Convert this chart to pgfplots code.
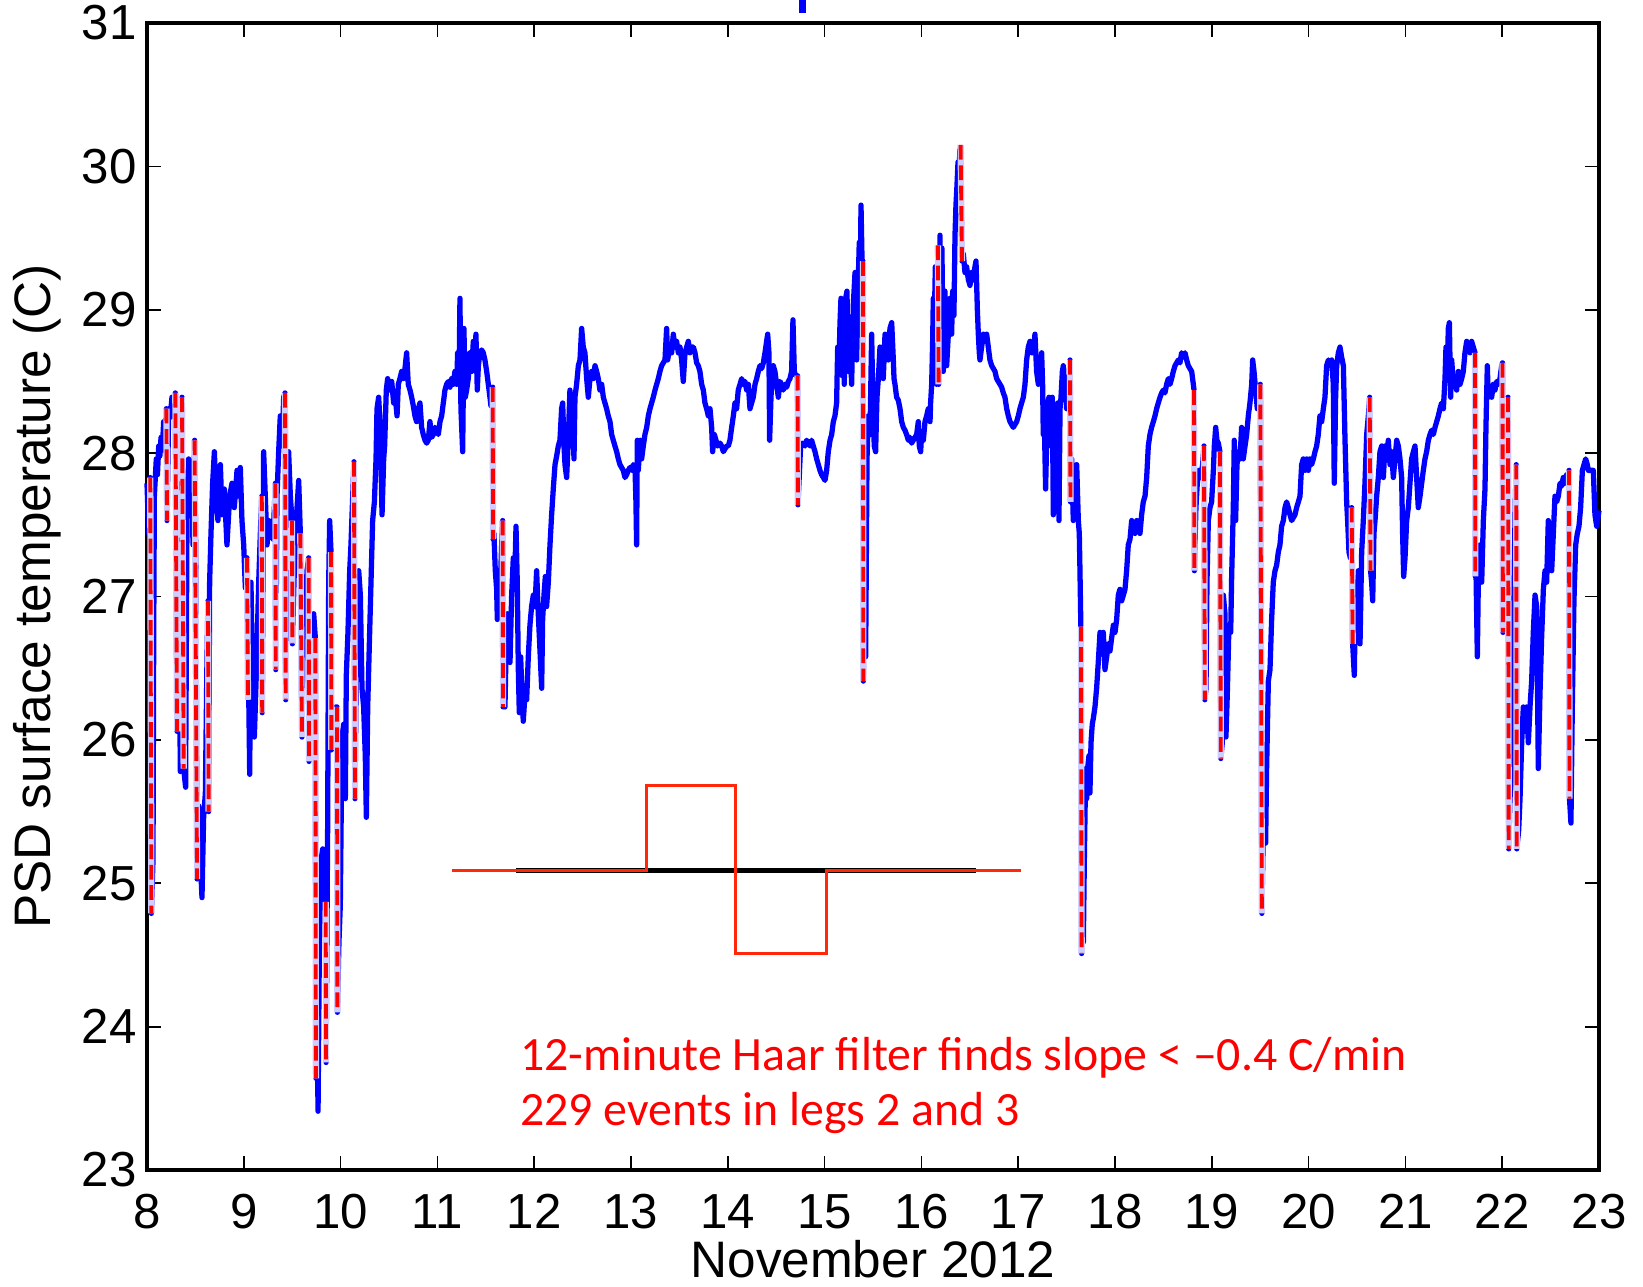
\documentclass[border=0pt]{standalone}
\usepackage{fontspec}
\setmainfont{Liberation Sans}
\newfontfamily\carlito{Carlito}
\usepackage{pgfplots}
\usepackage{pgfplotstable}
\pgfplotsset{compat=1.18}
\definecolor{haarred}{RGB}{255,40,10}
\definecolor{paleblue}{RGB}{205,205,255}
\pgfplotstableread{
x y
8.000 27.79
8.017 27.44
8.034 27.83
8.045 24.79
8.062 25.16
8.069 26.67
8.076 27.70
8.096 27.96
8.108 27.85
8.121 28.05
8.133 27.98
8.145 28.11
8.158 28.02
8.172 28.22
8.186 28.12
8.200 28.31
8.207 27.53
8.224 28.31
8.240 28.25
8.258 28.39
8.275 28.33
8.293 28.42
8.310 26.06
8.327 27.53
8.344 25.78
8.362 28.39
8.379 25.80
8.399 25.67
8.413 27.53
8.430 27.96
8.448 27.70
8.465 27.88
8.475 27.36
8.492 28.09
8.506 27.14
8.517 25.03
8.534 25.54
8.551 25.16
8.568 24.90
8.585 25.46
8.603 25.63
8.620 26.58
8.630 26.97
8.637 25.50
8.647 27.10
8.661 27.44
8.678 27.79
8.696 28.01
8.713 27.70
8.733 27.53
8.758 27.92
8.775 27.57
8.799 27.75
8.826 27.36
8.854 27.70
8.878 27.79
8.902 27.62
8.930 27.88
8.947 27.70
8.964 27.90
8.981 27.53
8.999 27.36
9.016 27.06
9.033 27.27
9.043 26.75
9.061 25.76
9.074 27.10
9.095 26.23
9.109 26.02
9.129 26.45
9.154 27.10
9.171 27.44
9.186 27.70
9.190 26.19
9.205 28.01
9.222 27.70
9.240 27.36
9.257 27.53
9.274 27.44
9.302 27.40
9.326 27.79
9.330 26.49
9.343 27.70
9.360 28.01
9.377 28.26
9.395 28.05
9.412 28.39
9.426 28.42
9.433 26.28
9.446 27.53
9.463 28.01
9.481 27.70
9.498 27.53
9.502 26.67
9.515 27.01
9.532 27.44
9.550 27.62
9.567 27.81
9.584 27.44
9.601 26.02
9.618 27.01
9.636 26.84
9.653 27.18
9.670 27.27
9.674 25.85
9.687 26.58
9.705 26.67
9.722 26.88
9.739 26.71
9.745 23.64
9.756 24.08
9.767 23.41
9.780 24.51
9.798 25.16
9.815 25.24
9.832 24.94
9.846 24.87
9.850 23.75
9.866 25.37
9.877 27.10
9.887 27.53
9.901 27.31
9.905 25.93
9.921 26.02
9.939 26.11
9.952 26.23
9.963 26.23
9.967 24.10
9.983 24.59
9.997 24.85
10.014 26.02
10.032 26.11
10.049 25.59
10.059 26.45
10.076 26.75
10.094 27.18
10.107 27.36
10.125 27.70
10.138 27.94
10.149 25.59
10.169 27.10
10.187 27.18
10.204 27.01
10.221 26.36
10.238 26.23
10.255 25.89
10.266 25.46
10.280 26.23
10.297 26.67
10.314 27.10
10.331 27.53
10.349 27.66
10.366 27.96
10.376 28.31
10.393 28.39
10.410 28.18
10.428 27.57
10.445 27.96
10.455 28.05
10.472 28.44
10.486 28.52
10.507 28.44
10.528 28.50
10.548 28.35
10.565 28.39
10.583 28.26
10.596 28.48
10.613 28.52
10.631 28.57
10.648 28.52
10.665 28.59
10.682 28.70
10.699 28.48
10.717 28.44
10.734 28.39
10.751 28.33
10.768 28.26
10.785 28.22
10.803 28.31
10.820 28.35
10.837 28.18
10.854 28.13
10.872 28.09
10.889 28.07
10.906 28.09
10.923 28.22
10.940 28.11
10.958 28.13
10.975 28.18
10.992 28.16
11.009 28.13
11.027 28.22
11.044 28.26
11.061 28.35
11.078 28.44
11.095 28.48
11.113 28.50
11.130 28.46
11.147 28.52
11.164 28.48
11.181 28.57
11.199 28.48
11.209 28.70
11.223 28.48
11.233 29.08
11.243 28.31
11.261 28.01
11.274 28.87
11.288 28.39
11.302 28.44
11.319 28.52
11.336 28.70
11.354 28.57
11.371 28.78
11.388 28.65
11.398 28.83
11.412 28.44
11.423 28.61
11.440 28.70
11.457 28.72
11.474 28.70
11.491 28.65
11.509 28.57
11.526 28.48
11.543 28.39
11.553 28.33
11.564 28.44
11.571 28.46
11.575 27.40
11.584 27.44
11.598 27.18
11.612 27.05
11.619 26.84
11.629 27.10
11.646 27.01
11.664 27.36
11.674 27.53
11.678 26.23
11.688 26.45
11.698 26.23
11.708 26.58
11.722 26.88
11.736 26.71
11.750 26.54
11.767 27.01
11.784 27.27
11.798 27.10
11.812 27.49
11.825 27.10
11.836 26.49
11.846 26.19
11.860 26.58
11.874 26.32
11.887 26.13
11.905 26.32
11.922 26.28
11.939 26.58
11.956 26.80
11.973 26.93
11.991 27.01
12.008 26.93
12.025 27.18
12.042 26.88
12.060 26.62
12.077 26.36
12.087 26.84
12.101 27.01
12.115 27.14
12.128 26.93
12.146 27.10
12.163 27.36
12.180 27.57
12.197 27.75
12.215 27.92
12.232 27.98
12.249 28.05
12.266 28.09
12.283 28.31
12.294 28.35
12.308 28.05
12.318 27.92
12.335 27.83
12.352 28.09
12.369 28.44
12.387 28.05
12.397 28.26
12.411 27.96
12.421 28.39
12.438 28.48
12.456 28.61
12.473 28.65
12.490 28.87
12.507 28.74
12.524 28.70
12.542 28.52
12.559 28.39
12.576 28.52
12.593 28.57
12.611 28.52
12.628 28.61
12.645 28.57
12.662 28.52
12.679 28.44
12.697 28.48
12.714 28.39
12.731 28.35
12.748 28.31
12.765 28.26
12.783 28.22
12.800 28.13
12.817 28.09
12.834 28.05
12.852 28.01
12.869 27.96
12.886 27.92
12.903 27.90
12.920 27.88
12.938 27.83
12.955 27.85
12.972 27.88
12.989 27.90
13.007 27.88
13.024 27.92
13.041 27.90
13.051 27.66
13.058 27.36
13.065 28.09
13.075 27.88
13.096 28.09
13.110 27.96
13.127 28.05
13.144 28.13
13.162 28.18
13.179 28.26
13.196 28.31
13.213 28.35
13.230 28.39
13.248 28.44
13.265 28.48
13.282 28.52
13.299 28.57
13.316 28.61
13.334 28.63
13.351 28.65
13.368 28.87
13.378 28.65
13.403 28.74
13.420 28.70
13.437 28.83
13.454 28.74
13.471 28.78
13.489 28.70
13.506 28.74
13.523 28.65
13.540 28.50
13.558 28.70
13.575 28.74
13.592 28.78
13.609 28.70
13.626 28.74
13.644 28.74
13.661 28.70
13.678 28.63
13.695 28.61
13.712 28.57
13.730 28.48
13.747 28.44
13.764 28.35
13.781 28.31
13.799 28.26
13.816 28.31
13.833 28.18
13.843 28.01
13.861 28.13
13.878 28.09
13.895 28.05
13.919 28.07
13.936 28.05
13.954 28.01
13.971 28.03
13.988 28.05
14.005 28.05
14.022 28.09
14.040 28.18
14.057 28.26
14.074 28.35
14.091 28.31
14.108 28.44
14.126 28.48
14.143 28.52
14.160 28.48
14.177 28.50
14.195 28.44
14.212 28.48
14.229 28.31
14.246 28.35
14.263 28.39
14.281 28.48
14.298 28.52
14.315 28.57
14.332 28.61
14.350 28.59
14.367 28.63
14.384 28.70
14.401 28.78
14.412 28.83
14.425 28.70
14.432 28.09
14.446 28.39
14.460 28.57
14.470 28.61
14.487 28.57
14.504 28.48
14.522 28.39
14.539 28.50
14.556 28.48
14.573 28.44
14.591 28.48
14.608 28.46
14.625 28.50
14.642 28.52
14.659 28.57
14.673 28.93
14.687 28.57
14.701 28.54
14.714 28.54
14.721 28.54
14.724 27.64
14.735 27.79
14.752 28.05
14.770 28.07
14.797 28.05
14.814 28.09
14.832 28.07
14.849 28.05
14.866 28.09
14.883 28.05
14.901 28.01
14.918 27.96
14.935 27.92
14.952 27.88
14.969 27.85
14.987 27.83
15.004 27.81
15.021 27.88
15.038 28.01
15.056 28.09
15.073 28.13
15.090 28.22
15.107 28.26
15.124 28.35
15.135 28.74
15.148 28.61
15.159 28.91
15.169 29.08
15.183 28.54
15.193 29.04
15.203 28.48
15.217 29.08
15.231 29.13
15.245 28.57
15.262 28.83
15.279 28.48
15.297 29.04
15.314 29.26
15.331 28.65
15.348 29.21
15.358 29.47
15.365 29.04
15.376 29.73
15.389 29.26
15.396 29.34
15.400 26.41
15.410 27.62
15.424 26.58
15.438 27.96
15.451 28.26
15.469 28.13
15.486 28.83
15.500 28.31
15.513 28.05
15.527 28.01
15.541 28.39
15.555 28.52
15.572 28.74
15.589 28.70
15.606 28.52
15.624 28.83
15.641 28.74
15.658 28.65
15.675 28.87
15.693 28.91
15.710 28.65
15.717 28.52
15.727 28.48
15.744 28.39
15.761 28.37
15.779 28.31
15.796 28.22
15.813 28.18
15.830 28.16
15.847 28.13
15.865 28.09
15.882 28.11
15.899 28.07
15.916 28.09
15.934 28.11
15.951 28.13
15.968 28.22
15.978 28.05
15.992 28.01
16.002 28.13
16.020 28.09
16.037 28.22
16.054 28.26
16.071 28.31
16.089 28.22
16.095 28.35
16.106 28.48
16.116 28.78
16.123 29.08
16.133 28.91
16.144 29.30
16.157 28.48
16.168 29.00
16.178 28.48
16.192 29.52
16.202 28.61
16.212 29.43
16.226 28.57
16.243 29.13
16.261 28.61
16.278 28.83
16.295 29.08
16.312 28.83
16.323 29.13
16.336 28.96
16.347 29.52
16.357 29.73
16.367 29.86
16.378 30.03
16.388 29.95
16.398 30.12
16.409 29.82
16.419 29.34
16.433 29.39
16.450 29.26
16.467 29.30
16.485 29.21
16.502 29.17
16.519 29.26
16.536 29.21
16.553 29.30
16.564 29.34
16.578 29.00
16.588 28.83
16.598 28.70
16.605 28.65
16.622 28.74
16.640 28.83
16.657 28.78
16.674 28.83
16.691 28.74
16.708 28.65
16.726 28.61
16.743 28.59
16.760 28.57
16.777 28.52
16.794 28.50
16.812 28.48
16.829 28.46
16.846 28.42
16.863 28.39
16.881 28.31
16.898 28.26
16.915 28.22
16.932 28.20
16.949 28.18
16.967 28.20
16.984 28.22
17.001 28.26
17.018 28.31
17.035 28.35
17.053 28.39
17.070 28.48
17.087 28.65
17.104 28.74
17.122 28.78
17.139 28.70
17.156 28.70
17.173 28.83
17.190 28.57
17.208 28.48
17.225 28.57
17.242 28.70
17.252 28.48
17.259 28.13
17.270 28.22
17.283 27.75
17.294 28.09
17.304 28.35
17.318 28.39
17.328 28.31
17.339 28.05
17.352 28.39
17.363 27.57
17.373 28.05
17.387 28.26
17.397 28.18
17.407 28.35
17.421 27.53
17.432 28.31
17.442 28.39
17.456 28.57
17.466 28.61
17.476 28.39
17.490 28.48
17.500 28.31
17.511 28.44
17.524 28.48
17.535 28.65
17.540 27.66
17.552 27.96
17.569 27.53
17.586 27.88
17.604 27.92
17.621 27.53
17.631 27.44
17.638 27.18
17.648 26.75
17.655 24.51
17.662 25.37
17.673 24.59
17.683 25.16
17.697 25.80
17.707 25.59
17.717 25.80
17.731 25.89
17.741 25.63
17.752 25.98
17.765 26.11
17.776 26.15
17.793 26.23
17.810 26.36
17.827 26.54
17.845 26.75
17.862 26.67
17.879 26.75
17.896 26.49
17.914 26.58
17.931 26.67
17.948 26.62
17.965 26.71
17.983 26.80
18.000 26.75
18.017 26.84
18.034 27.01
18.051 27.05
18.069 26.97
18.086 27.01
18.103 27.05
18.120 27.18
18.137 27.36
18.155 27.40
18.172 27.53
18.189 27.49
18.206 27.44
18.224 27.53
18.241 27.47
18.258 27.44
18.275 27.57
18.292 27.66
18.310 27.70
18.327 27.83
18.344 28.05
18.361 28.13
18.378 28.18
18.396 28.22
18.413 28.26
18.430 28.31
18.447 28.35
18.465 28.39
18.482 28.42
18.499 28.44
18.516 28.42
18.533 28.48
18.551 28.52
18.568 28.48
18.585 28.52
18.602 28.57
18.620 28.61
18.637 28.63
18.654 28.65
18.671 28.63
18.688 28.70
18.706 28.67
18.723 28.70
18.740 28.65
18.757 28.61
18.774 28.59
18.792 28.57
18.809 28.48
18.816 28.44
18.820 27.18
18.826 27.36
18.836 27.62
18.850 27.79
18.867 27.88
18.885 27.83
18.905 27.92
18.919 28.05
18.928 26.28
18.940 26.36
18.950 27.10
18.964 27.53
18.981 27.62
18.998 27.66
19.016 27.88
19.026 28.05
19.040 28.18
19.053 28.09
19.067 28.07
19.084 28.01
19.093 25.87
19.108 25.98
19.119 27.01
19.136 26.88
19.146 26.02
19.160 26.32
19.177 26.80
19.195 26.75
19.205 27.14
19.222 27.62
19.232 28.09
19.246 27.53
19.260 27.92
19.274 28.01
19.291 27.96
19.308 28.18
19.325 27.96
19.343 28.05
19.360 28.13
19.377 28.26
19.394 28.35
19.412 28.48
19.422 28.65
19.436 28.57
19.453 28.44
19.470 28.31
19.487 28.35
19.501 28.48
19.517 24.79
19.532 25.37
19.542 25.89
19.556 25.28
19.566 25.80
19.584 26.41
19.601 26.49
19.618 26.84
19.635 27.10
19.653 27.18
19.670 27.22
19.687 27.31
19.704 27.36
19.721 27.49
19.739 27.53
19.756 27.62
19.773 27.66
19.790 27.62
19.808 27.57
19.825 27.53
19.842 27.55
19.859 27.57
19.876 27.62
19.894 27.66
19.911 27.70
19.928 27.92
19.945 27.96
19.963 27.88
19.980 27.96
19.997 27.88
20.014 27.96
20.031 27.92
20.049 27.96
20.066 28.01
20.083 28.05
20.100 28.13
20.117 28.26
20.135 28.22
20.152 28.31
20.169 28.39
20.186 28.61
20.204 28.65
20.221 28.61
20.238 28.65
20.255 28.48
20.265 27.79
20.279 28.39
20.290 28.61
20.307 28.70
20.324 28.74
20.341 28.67
20.359 28.61
20.376 28.09
20.393 27.66
20.403 27.53
20.417 27.31
20.431 27.27
20.445 27.62
20.455 26.67
20.472 26.45
20.486 27.10
20.500 26.93
20.513 27.18
20.531 26.67
20.548 27.31
20.565 27.53
20.582 27.79
20.600 28.13
20.617 28.26
20.631 28.39
20.640 27.18
20.651 27.10
20.662 26.97
20.675 27.44
20.686 27.53
20.703 27.70
20.720 27.83
20.737 28.01
20.755 28.05
20.772 27.83
20.789 28.05
20.806 27.96
20.823 28.09
20.841 27.92
20.858 28.01
20.875 27.83
20.892 27.96
20.910 28.09
20.927 28.05
20.944 27.96
20.961 27.83
20.971 27.44
20.982 27.14
20.996 27.27
21.013 27.53
21.030 27.62
21.047 27.79
21.064 27.96
21.082 28.01
21.099 28.05
21.116 27.83
21.133 27.62
21.151 27.70
21.168 27.79
21.185 27.88
21.202 27.96
21.219 28.01
21.237 28.09
21.254 28.13
21.271 28.16
21.288 28.13
21.306 28.18
21.323 28.22
21.340 28.26
21.357 28.31
21.374 28.35
21.392 28.31
21.409 28.52
21.419 28.74
21.433 28.57
21.443 28.87
21.454 28.91
21.467 28.39
21.478 28.65
21.495 28.48
21.512 28.52
21.529 28.44
21.547 28.57
21.564 28.48
21.581 28.52
21.598 28.57
21.615 28.70
21.633 28.78
21.650 28.74
21.667 28.70
21.684 28.78
21.701 28.74
21.719 28.70
21.722 27.14
21.729 27.18
21.743 26.58
21.753 27.10
21.770 27.36
21.788 27.10
21.805 27.53
21.822 27.75
21.832 28.18
21.846 28.61
21.856 28.39
21.874 28.44
21.891 28.39
21.908 28.48
21.925 28.44
21.943 28.50
21.960 28.48
21.977 28.52
21.994 28.61
22.003 28.63
22.007 26.75
22.018 27.53
22.032 28.09
22.046 28.26
22.060 28.39
22.067 25.24
22.080 25.59
22.094 25.72
22.108 26.23
22.122 27.10
22.135 27.66
22.145 27.92
22.150 25.24
22.170 25.37
22.184 25.59
22.201 25.98
22.218 26.23
22.235 26.06
22.252 26.23
22.270 25.98
22.287 26.23
22.304 26.41
22.321 26.75
22.339 27.01
22.356 26.93
22.373 25.80
22.390 26.32
22.407 26.71
22.425 27.05
22.442 27.18
22.459 27.10
22.476 27.53
22.494 27.36
22.511 27.18
22.528 27.44
22.545 27.70
22.562 27.66
22.580 27.70
22.597 27.79
22.614 27.77
22.631 27.83
22.648 27.79
22.666 27.85
22.683 27.85
22.690 27.88
22.695 25.59
22.710 25.42
22.724 26.23
22.741 26.97
22.759 27.36
22.776 27.44
22.793 27.49
22.810 27.62
22.828 27.88
22.845 27.92
22.862 27.96
22.879 27.92
22.890 27.88
22.941 27.88
22.958 27.57
22.976 27.49
23.000 27.60
}\bluedata
\pgfplotstableread{
x y
8.034 27.83
8.045 24.79
nan nan
8.200 28.31
8.207 27.53
nan nan
8.293 28.42
8.310 26.06
nan nan
8.362 28.39
8.379 25.80
nan nan
8.492 28.09
8.517 25.03
nan nan
8.630 26.97
8.637 25.50
nan nan
9.033 27.27
9.043 26.28
nan nan
9.186 27.70
9.190 26.19
nan nan
9.326 27.79
9.330 26.49
nan nan
9.426 28.42
9.433 26.28
nan nan
9.498 27.53
9.502 26.67
nan nan
9.584 27.44
9.601 26.02
nan nan
9.670 27.27
9.674 25.85
nan nan
9.739 26.71
9.745 23.64
nan nan
9.846 24.87
9.850 23.75
nan nan
9.901 27.31
9.905 25.93
nan nan
9.963 26.23
9.967 24.10
nan nan
10.138 27.94
10.149 25.59
nan nan
11.571 28.46
11.575 27.40
nan nan
11.674 27.53
11.678 26.23
nan nan
14.721 28.54
14.724 27.64
nan nan
15.396 29.34
15.400 26.41
nan nan
16.405 30.15
16.419 29.34
nan nan
16.170 29.45
16.178 28.48
nan nan
17.535 28.65
17.540 27.66
nan nan
17.648 26.79
17.655 24.51
nan nan
18.816 28.44
18.820 27.18
nan nan
18.919 28.05
18.928 26.28
nan nan
19.084 28.01
19.093 25.87
nan nan
19.501 28.48
19.517 24.79
nan nan
20.445 27.62
20.455 26.67
nan nan
20.631 28.39
20.640 27.18
nan nan
21.719 28.70
21.722 27.14
nan nan
22.003 28.63
22.007 26.75
nan nan
22.060 28.39
22.067 25.24
nan nan
22.145 27.92
22.150 25.24
nan nan
22.690 27.88
22.695 25.59
}\reddata
\begin{document}
\begin{tikzpicture}
\begin{axis}[
  scale only axis,
  width=145.2mm, height=114.7mm,
  xmin=8, xmax=23, ymin=23, ymax=31,
  xtick={8,9,...,23}, ytick={23,24,...,31},
  tick align=inside, tick pos=both,
  major tick length=1.4mm,
  tick style={black, line width=0.5pt},
  axis line style={black, line width=0.9pt},
  /pgf/number format/assume math mode=true,
  ticklabel style={font=\fontsize{14}{16}\selectfont},
  xticklabel style={yshift=-1.2mm},
  yticklabel style={xshift=0.2mm},
  xlabel={November 2012},
  ylabel={PSD surface temperature (C)},
  label style={font=\fontsize{14.6}{17}\selectfont},
  xlabel style={at={(axis description cs:0.5,-0.078)}, anchor=center},
  ylabel style={at={(axis description cs:-0.0758,0.5)}, anchor=center},
  unbounded coords=jump,
  clip=false,
]
\addplot[blue, line width=1.5pt, line join=round] table[x=x,y=y] {\bluedata};
\addplot[paleblue, line width=1.8pt] table[x=x,y=y] {\reddata};
\addplot[red, line width=1.1pt, dash pattern=on 4.2pt off 1.6pt] table[x=x,y=y] {\reddata};
\addplot[blue, line width=2pt] coordinates {(14.77,31.07) (14.77,31.16)};
\addplot[black, line width=1.6pt] coordinates {(11.813,25.09) (16.567,25.09)};
\addplot[haarred, line width=0.8pt] coordinates {(11.149,25.09) (13.158,25.09) (13.158,25.68) (14.083,25.68) (14.083,24.51) (15.017,24.51) (15.017,25.09) (17.025,25.09)};
\node[anchor=west, red, font=\carlito\fontsize{13.6}{16}\selectfont, inner sep=0pt] at (axis cs:11.85,23.78) {12-minute Haar filter finds slope < –0.4 C/min};
\node[anchor=west, red, font=\carlito\fontsize{13.6}{16}\selectfont, inner sep=0pt] at (axis cs:11.85,23.40) {229 events in legs 2 and 3};
\end{axis}
\pgfresetboundingbox
\path[use as bounding box] (-14.7mm,-11.6mm) rectangle (149.6mm,117mm);
\end{tikzpicture}
\end{document}
